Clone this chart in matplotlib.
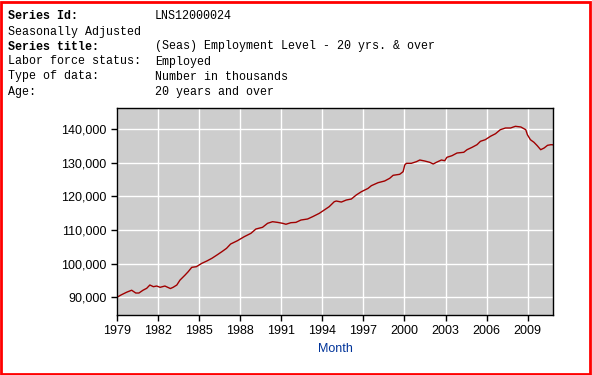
import matplotlib.pyplot as plt
from matplotlib.ticker import FuncFormatter
from matplotlib.patches import Rectangle

# Header info
header_labels = ['Series Id:', 'Seasonally Adjusted', 'Series title:',
                 'Labor force status:', 'Type of data:', 'Age:']
header_values = ['LNS12000024', '', '(Seas) Employment Level - 20 yrs. & over',
                 'Employed', 'Number in thousands', '20 years and over']
header_bold = [True, False, True, False, False, False]

# Employment level (thousands)
years = [1979.0, 1979.3, 1979.7, 1980.07, 1980.37, 1980.6, 1980.9, 1981.17,
         1981.4, 1981.66, 1981.9, 1982.15, 1982.5, 1982.9, 1983.1, 1983.37,
         1983.6, 1983.97, 1984.2, 1984.46, 1984.8, 1985.2, 1985.56, 1985.93,
         1986.3, 1986.66, 1987.0, 1987.3, 1987.8, 1988.29, 1988.78, 1989.15,
         1989.63, 1990.0, 1990.36, 1990.73, 1991.1, 1991.34, 1991.7, 1992.07,
         1992.44, 1992.92, 1993.29, 1993.78, 1994.14, 1994.5, 1994.87, 1995.02,
         1995.39, 1995.75, 1996.12, 1996.48, 1996.85, 1997.34, 1997.58, 1998.07,
         1998.55, 1998.92, 1999.17, 1999.65, 1999.9, 2000.02, 2000.14, 2000.5,
         2000.87, 2001.12, 2001.48, 2001.85, 2002.1, 2002.33, 2002.7, 2002.94,
         2003.1, 2003.47, 2003.84, 2004.33, 2004.57, 2004.94, 2005.3, 2005.55,
         2005.9, 2006.28, 2006.65, 2007.0, 2007.38, 2007.75, 2008.1, 2008.5,
         2008.86, 2008.98, 2009.2, 2009.46, 2009.7, 2009.95, 2010.2, 2010.45,
         2010.7, 2010.85]
employed = [90000, 90700, 91500, 92100, 91270, 91270, 92100, 92670,
            93650, 93150, 93350, 92970, 93350, 92600, 92970, 93650,
            95100, 96600, 97600, 98900, 99100, 100100, 100780, 101580,
            102560, 103550, 104540, 105830, 106820, 108000, 109000, 110290,
            110790, 111980, 112460, 112260, 111980, 111700, 112160, 112260,
            112960, 113260, 113950, 114950, 115940, 116920, 118400, 118600,
            118300, 118900, 119200, 120400, 121370, 122360, 123160, 124050,
            124550, 125350, 126240, 126540, 127320, 129300, 129810, 129810,
            130290, 130790, 130490, 130100, 129600, 130100, 130790, 130580,
            131590, 132070, 132870, 133080, 133850, 134560, 135340, 136350,
            136820, 137830, 138600, 139790, 140300, 140300, 140800, 140600,
            139790, 138300, 136820, 136050, 135040, 133850, 134350, 135150,
            135340, 135300]

xticks = [1979, 1982, 1985, 1988, 1991, 1994, 1997, 2000, 2003, 2006, 2009]
yticks = [90000, 100000, 110000, 120000, 130000, 140000]

W, H = 592, 375
fig = plt.figure(figsize=(W / 100, H / 100), dpi=100)

# red frame around the image
fig.patches.append(Rectangle((1 / W, 1 / H), 1 - 3 / W, 1 - 3 / H,
                             transform=fig.transFigure, fill=False,
                             edgecolor='#ff0000', linewidth=2))

# header block
line_y = [16, 31.5, 46.5, 61.5, 76.5, 91.5]
for lab, val, b, yy in zip(header_labels, header_values, header_bold, line_y):
    fig.text(8 / W, 1 - yy / H, lab, family='Liberation Mono', fontsize=8.4,
             fontweight='bold' if b else 'normal', va='center', ha='left')
    if val:
        fig.text(155 / W, 1 - yy / H, val, family='Liberation Mono',
                 fontsize=8.4, va='center', ha='left')

ax = fig.add_axes([117 / W, 1 - 315 / H, (553 - 117) / W, (315 - 108) / H])
ax.set_facecolor('#cdcdcd')
ax.plot(years, employed, color='#a00000', linewidth=1.0)

ax.set_xlim(1979, 2010.85)
ax.set_ylim(84740, 146240)
ax.set_xticks(xticks)
ax.set_yticks(yticks)
ax.yaxis.set_major_formatter(FuncFormatter(lambda v, p: f'{int(v):,}'))
ax.grid(True, color='white', linewidth=1.0)
ax.set_axisbelow(True)
for s in ax.spines.values():
    s.set_color('black')
    s.set_linewidth(1)
ax.tick_params(direction='out', length=4, width=1, colors='black',
               labelsize=9)
for lbl in ax.get_xticklabels() + ax.get_yticklabels():
    lbl.set_family('Liberation Sans')

ax.set_xlabel('Month', color='#003399', fontsize=9, family='Liberation Sans',
              labelpad=4)

fig.savefig('out.png', dpi=100)
